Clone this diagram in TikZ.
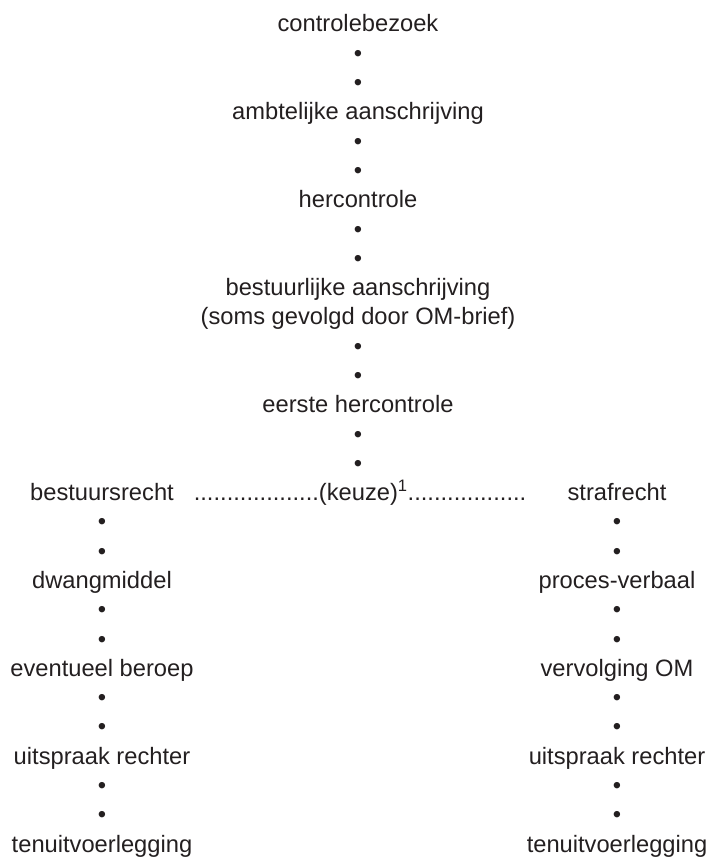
\documentclass[tikz,border=0pt]{standalone}
\usepackage{fontspec}
\setmainfont{Liberation Sans}
\definecolor{ink}{HTML}{231F20}
\begin{document}
\begin{tikzpicture}[x=1pt,y=-1pt,
  lbl/.style={anchor=base,inner sep=0pt,font=\fontsize{23.7}{28}\selectfont,text=ink},
  bul/.style={lbl}]
\useasboundingbox (0,0) rectangle (711,858);
\def\cx{358}\def\lx{102}\def\rx{617}
% centre column
\node[lbl] (c0) at (\cx,{32+0*29.29}) {controlebezoek};
\node[lbl] (c3) at (\cx,{32+3*29.29}) {ambtelijke aanschrijving};
\node[lbl] (c6) at (\cx,{32+6*29.29}) {hercontrole};
\node[lbl] (c9) at (\cx,{32+9*29.29}) {bestuurlijke aanschrijving};
\node[lbl] (c10) at (\cx,{32+10*29.29}) {(soms gevolgd door OM-brief)};
\node[lbl] (c13) at (\cx,{32+13*29.29}) {eerste hercontrole};
\foreach \i in {1,2,4,5,7,8,11,12,14,15}
  \node[bul] (cd\i) at (\cx,{32+\i*29.29}) {•};
% choice row
\node[lbl] (bst) at (\lx,{32+16*29.29}) {bestuursrecht};
\node[lbl] (keuze) at (360,{32+16*29.29}) {...................(keuze)\textsuperscript{1}..................};
\node[lbl] (str) at (\rx,{32+16*29.29}) {strafrecht};
% left column
\node[lbl] (l19) at (\lx,{32+19*29.29}) {dwangmiddel};
\node[lbl] (l22) at (\lx,{32+22*29.29}) {eventueel beroep};
\node[lbl] (l25) at (\lx,{32+25*29.29}) {uitspraak rechter};
\node[lbl] (l28) at (\lx,{32+28*29.29}) {tenuitvoerlegging};
% right column
\node[lbl] (r19) at (\rx,{32+19*29.29}) {proces-verbaal};
\node[lbl] (r22) at (\rx,{32+22*29.29}) {vervolging OM};
\node[lbl] (r25) at (\rx,{32+25*29.29}) {uitspraak rechter};
\node[lbl] (r28) at (\rx,{32+28*29.29}) {tenuitvoerlegging};
\foreach \i in {17,18,20,21,23,24,26,27}{
  \node[bul] (ld\i) at (\lx,{32+\i*29.29}) {•};
  \node[bul] (rd\i) at (\rx,{32+\i*29.29}) {•};
}
\end{tikzpicture}
\end{document}
